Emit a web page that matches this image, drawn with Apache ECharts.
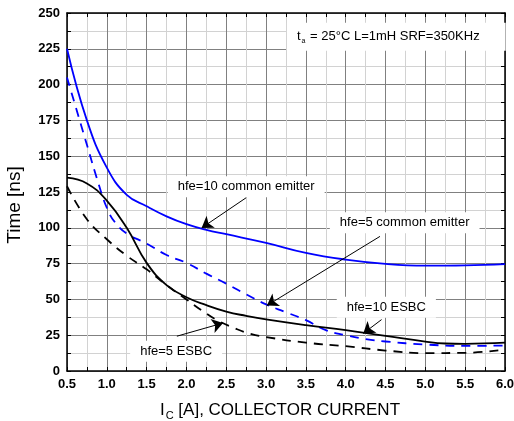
<!DOCTYPE html>
<html>
<head>
<meta charset="utf-8">
<script src="https://cdn.jsdelivr.net/npm/echarts@6/dist/echarts.min.js"></script>
<style>
  html, body { margin: 0; padding: 0; background: #fff; overflow: hidden; }
  #chart { width: 514px; height: 421px; }
</style>
</head>
<body>
<div id="chart"></div>
<script>
// Switching time vs collector current, [I_C (A), time (ns)] pairs per curve
const hfe10CommonEmitter = [
  [0.5, 225], [0.75, 175], [1.0, 142], [1.25, 123], [1.5, 115], [1.75, 108],
  [2.0, 102.5], [2.25, 98.5], [2.5, 95.5], [3.0, 89.5], [3.5, 82.5], [4.0, 77.8],
  [4.5, 74.8], [5.0, 73.6], [5.5, 73.8], [6.0, 74.7]
];
const hfe5CommonEmitter = [
  [0.5, 205], [0.75, 158], [0.9, 130], [1.0, 114], [1.1, 104],
  [1.25, 96], [1.5, 89], [1.75, 81], [2.0, 75.5], [2.25, 68], [2.5, 61],
  [2.75, 53.5], [3.0, 46.5], [3.25, 41], [3.5, 35.5], [3.75, 28.5], [4.0, 25],
  [4.25, 22.3], [4.5, 20.6], [5.0, 18.5], [5.5, 17.5], [6.0, 17.8]
];
const hfe10Esbc = [
  [0.5, 135], [0.75, 131], [1.0, 119], [1.25, 100], [1.5, 75.5], [1.75, 60],
  [2.0, 51.5], [2.25, 46], [2.5, 41.5], [2.75, 38.5], [3.0, 36], [3.5, 32],
  [4.0, 28.5], [4.5, 24.5], [5.0, 20.5], [5.25, 19.2], [5.5, 19], [6.0, 19.8]
];
const hfe5Esbc = [
  [0.5, 129], [0.75, 106], [1.0, 92], [1.25, 80.5], [1.5, 71], [1.75, 60],
  [2.0, 50], [2.2, 42], [2.4, 35], [2.6, 30], [2.8, 26], [3.0, 23.7],
  [3.5, 19.8], [4.0, 17.3], [4.5, 14.3], [5.0, 12.5], [5.5, 12.7], [6.0, 15]
];

// Axis ranges
const xRange = { min: 0.5, max: 6.0, step: 0.5 };
const yRange = { min: 0, max: 250, step: 25 };

// Callout texts, where they sit and where their arrows point (data units)
const callouts = [
  { text: 'hfe=10 common emitter', at: [2.75, 128.7], from: [2.75, 121], to: [2.19, 99.9] },
  { text: 'hfe=5 common emitter',  at: [4.74, 103.6], from: [4.43, 94],  to: [3.01, 45.7] },
  { text: 'hfe=10 ESBC',           at: [4.51, 44.6],  from: [4.45, 35.9], to: [4.22, 26.2] },
  { text: 'hfe=5 ESBC',            at: [1.87, 13.8],  from: [1.88, 24.3], to: [2.46, 33.5] }
];
const conditionsAt = [3.262, 233.5];

const FONT = '"Liberation Sans", Arial, Helvetica, sans-serif';

function axisBase(range, show) {
  return {
    type: 'value',
    min: range.min,
    max: range.max,
    interval: range.step,
    axisLine: { show: true, onZero: false, lineStyle: { color: '#000', width: 1.5 } },
    axisTick: { show: true, inside: true, length: 4, lineStyle: { color: '#000', width: 1 } },
    minorTick: { show: true, splitNumber: 2, length: 4, lineStyle: { color: '#000', width: 1 } },
    splitLine: { show: show, lineStyle: { color: '#808080', width: 1 } },
    minorSplitLine: { show: show, lineStyle: { color: '#d2d2d2', width: 1 } },
    axisLabel: { show: show }
  };
}

const xMain = Object.assign(axisBase(xRange, true), {
  position: 'bottom',
  name: 'I{sub|C} [A], COLLECTOR CURRENT',
  nameLocation: 'middle',
  nameGap: 29,
  nameTextStyle: {
    color: '#000', fontFamily: FONT, fontSize: 17, padding: [0, 12, 0, 0],
    rich: { sub: { fontSize: 11, fontFamily: FONT, color: '#000', padding: [10, 0, 0, 1] } }
  },
  axisLabel: {
    show: true, color: '#000', fontFamily: FONT, fontWeight: 'bold', fontSize: 13, margin: 7,
    formatter: v => v.toFixed(1)
  }
});
const xTop = Object.assign(axisBase(xRange, false), { position: 'top' });

const yMain = Object.assign(axisBase(yRange, true), {
  position: 'left',
  axisLabel: {
    show: true, color: '#000', fontFamily: FONT, fontWeight: 'bold', fontSize: 13, margin: 7
  }
});
const yRight = Object.assign(axisBase(yRange, false), { position: 'right' });

function curve(name, data, color, dashed) {
  return {
    name: name,
    type: 'line',
    data: data,
    xAxisIndex: 0,
    yAxisIndex: 0,
    showSymbol: false,
    smooth: 0.45,
    silent: true,
    z: 3,
    lineStyle: { color: color, width: 1.8, type: dashed ? [9, 7] : 'solid' }
  };
}

const option = {
  backgroundColor: '#fff',
  animation: false,
  grid: { left: 67, right: 9, top: 13, bottom: 50, containLabel: false, outerBoundsMode: 'none' },
  xAxis: [xMain, xTop],
  yAxis: [yMain, yRight],
  series: [
    curve('hfe=10 common emitter', hfe10CommonEmitter, '#0000ff', false),
    curve('hfe=5 common emitter', hfe5CommonEmitter, '#0000ff', true),
    curve('hfe=10 ESBC', hfe10Esbc, '#000', false),
    curve('hfe=5 ESBC', hfe5Esbc, '#000', true),
    {
      name: 'arrows',
      type: 'line',
      data: [],
      silent: true,
      z: 4,
      markLine: {
        silent: true,
        animation: false,
        symbol: ['none', 'arrow'],
        symbolSize: 11,
        label: { show: false },
        emphasis: { disabled: true },
        lineStyle: { color: '#000', width: 1, type: 'solid' },
        data: callouts.map(c => [{ coord: c.from }, { coord: c.to }])
      }
    }
  ]
};

const chart = echarts.init(document.getElementById('chart'), null, { renderer: 'canvas' });
chart.setOption(option);

// White-backed callout texts and the test-conditions note
const toPx = p => chart.convertToPixel({ gridIndex: 0 }, p);
const graphics = callouts.map(c => {
  const p = toPx(c.at);
  return {
    type: 'text',
    x: p[0], y: p[1],
    z: 1,
    silent: true,
    style: {
      text: c.text,
      font: '13px ' + FONT,
      fill: '#000',
      align: 'center',
      verticalAlign: 'middle',
      backgroundColor: '#fff',
      padding: [4, 10]
    }
  };
});
const cp = toPx(conditionsAt);
graphics.push({
  type: 'text',
  x: cp[0], y: cp[1],
  z: 1,
  silent: true,
  style: {
    text: '{n|t}{s|a}{n| = 25°C L=1mH SRF=350KHz}',
    align: 'left',
    verticalAlign: 'middle',
    backgroundColor: '#fff',
    padding: [6, 26, 6, 10],
    rich: {
      n: { font: '13px ' + FONT, fill: '#000' },
      s: { font: '7px ' + FONT, fill: '#000', padding: [9, 1, 0, 1] }
    }
  }
});
graphics.push({
  type: 'text',
  x: 15, y: 205,
  rotation: Math.PI / 2,
  silent: true,
  style: {
    text: 'Time [ns]',
    font: '19px ' + FONT,
    fill: '#000',
    align: 'center',
    verticalAlign: 'middle'
  }
});
chart.setOption({ graphic: graphics });
</script>
</body>
</html>
